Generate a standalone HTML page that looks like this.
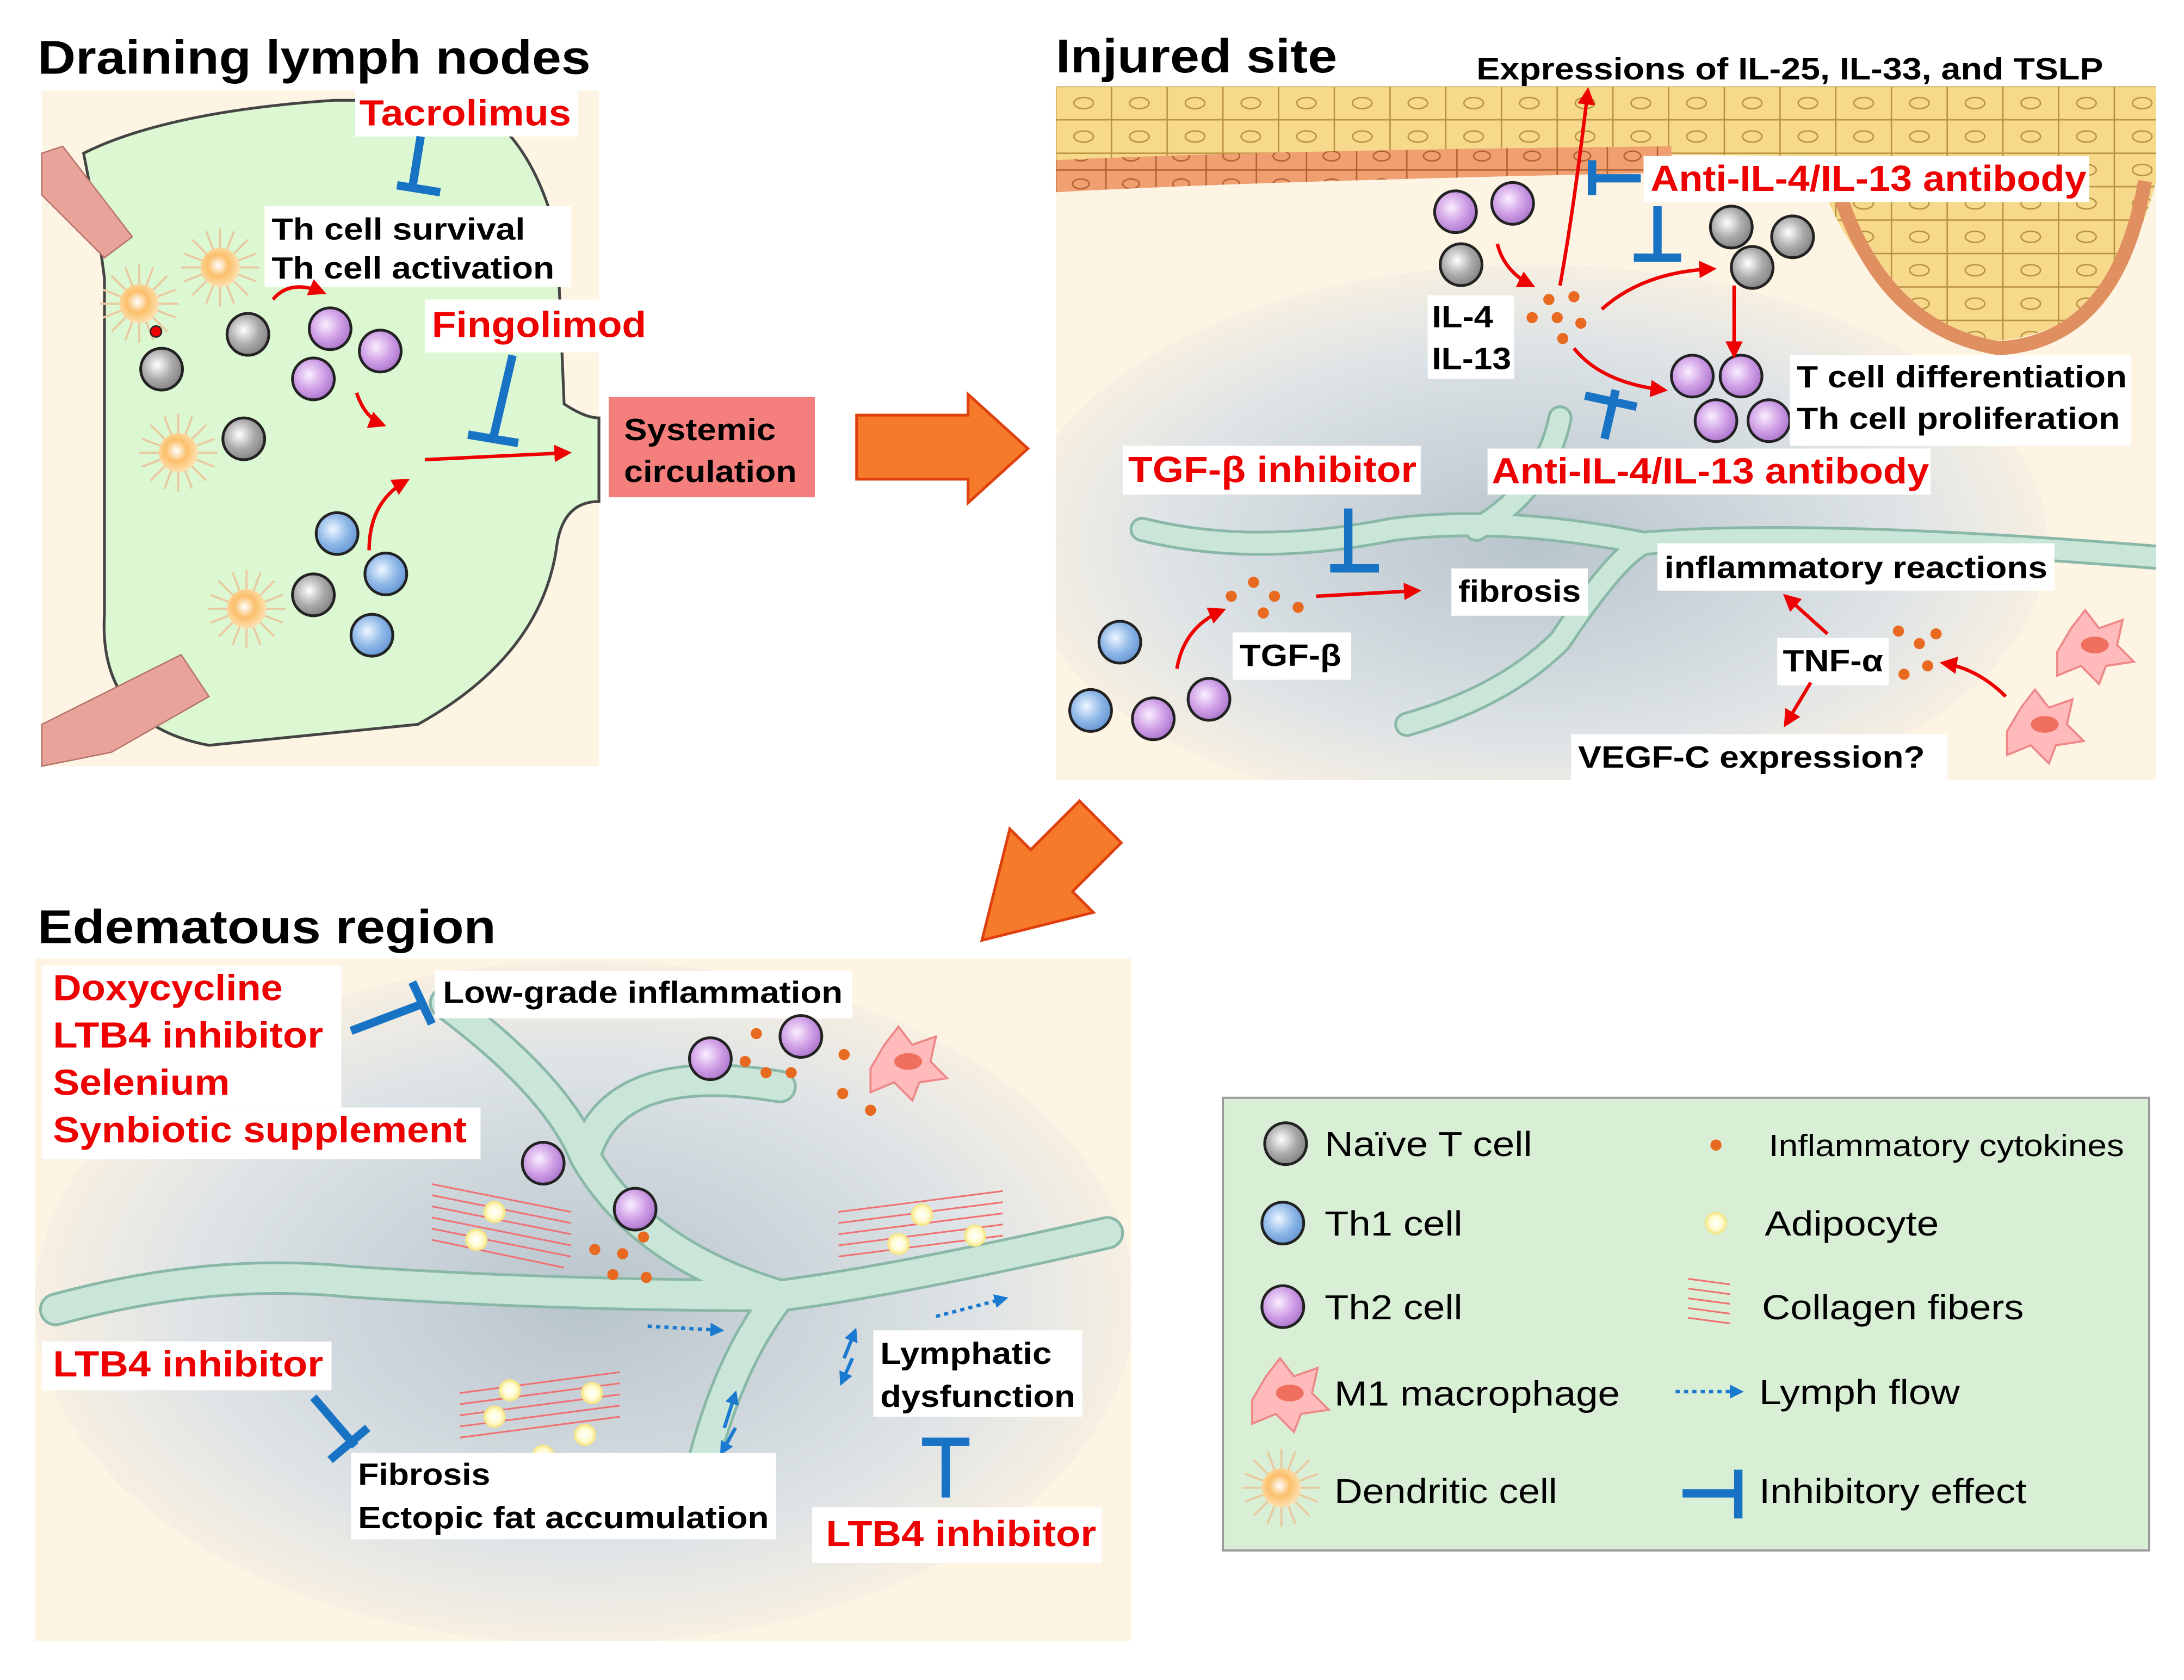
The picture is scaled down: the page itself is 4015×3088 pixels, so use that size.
<!DOCTYPE html>
<html><head><meta charset="utf-8"><style>html,body{margin:0;padding:0;background:#fff}svg{display:block}text{font-family:"Liberation Sans",Arial,sans-serif;font-weight:bold}.n{font-weight:normal}</style></head>
<body>
<svg width="4015" height="3088" viewBox="0 0 1568 1206" xmlns="http://www.w3.org/2000/svg">
<defs>
<radialGradient id="gr" cx="40%" cy="40%" r="60%"><stop offset="0" stop-color="#fff"/><stop offset="0.6" stop-color="#aaa"/><stop offset="1" stop-color="#888"/></radialGradient>
<radialGradient id="bl" cx="40%" cy="40%" r="60%"><stop offset="0" stop-color="#eef6ff"/><stop offset="0.6" stop-color="#8fb8e8"/><stop offset="1" stop-color="#6a9ad6"/></radialGradient>
<radialGradient id="pu" cx="40%" cy="40%" r="60%"><stop offset="0" stop-color="#fbeeff"/><stop offset="0.6" stop-color="#cf9fe6"/><stop offset="1" stop-color="#b07ad0"/></radialGradient>
<radialGradient id="dc" cx="45%" cy="45%" r="55%"><stop offset="0" stop-color="#fff"/><stop offset="0.5" stop-color="#fbbf6a"/><stop offset="1" stop-color="#fde0b0"/></radialGradient>
<radialGradient id="gy" cx="50%" cy="50%" r="50%"><stop offset="0" stop-color="#b8c4cc"/><stop offset="0.7" stop-color="#dde3e6"/><stop offset="1" stop-color="#f7efe2"/></radialGradient>
<radialGradient id="ad" cx="50%" cy="50%" r="50%"><stop offset="0" stop-color="#fff"/><stop offset="0.6" stop-color="#fffbd0"/><stop offset="1" stop-color="#f5e27a"/></radialGradient>
<clipPath id="c2"><rect x="758" y="62" width="790" height="498"/></clipPath>
<clipPath id="c3"><rect x="25" y="688" width="787" height="490"/></clipPath>
<pattern id="cells" x="758" y="62" width="40" height="24" patternUnits="userSpaceOnUse"><rect width="40" height="24" fill="#f6d98a" stroke="#b89040" stroke-width="1"/><ellipse cx="20" cy="12" rx="7" ry="4" fill="none" stroke="#b89040"/></pattern>
<pattern id="cells2" x="758" y="62" width="36" height="20" patternUnits="userSpaceOnUse"><rect width="36" height="20" fill="#f0a070" stroke="#b06030" stroke-width="1"/><ellipse cx="18" cy="10" rx="6" ry="3.5" fill="none" stroke="#b06030"/></pattern>
<marker id="ar" viewBox="0 0 10 10" refX="8" refY="5" markerWidth="5" markerHeight="5" orient="auto"><path d="M0,0L10,5L0,10z" fill="#e00"/></marker>
<marker id="ab" viewBox="0 0 10 10" refX="8" refY="5" markerWidth="4" markerHeight="4" orient="auto"><path d="M0,0L10,5L0,10z" fill="#1a7ad0"/></marker>
<g id="cg"><circle r="15" fill="url(#gr)" stroke="#222" stroke-width="2"/></g>
<g id="cb"><circle r="15" fill="url(#bl)" stroke="#222" stroke-width="2"/></g>
<g id="cp"><circle r="15" fill="url(#pu)" stroke="#222" stroke-width="2"/></g>
<g id="dcell" stroke="#e8c9a0" stroke-width="1.5"><path d="M-28,0H28M0,-28V28M-20,-20L20,20M-20,20L20,-20M-26,-10L26,10M-26,10L26,-10M-10,-26L10,26M10,-26L-10,26"/><circle r="14" fill="url(#dc)" stroke="none"/></g>
<g id="mac"><path d="M-25,5 L-15,-12 L-5,-25 L5,-12 L22,-18 L18,0 L30,12 L10,15 L5,28 L-8,15 L-25,22 z" fill="#fbb" stroke="#e88" stroke-width="1.5"/><ellipse cx="2" cy="0" rx="10" ry="6" fill="#f07060"/></g>
</defs>

<!-- Panel 1 -->
<text x="27" y="53" font-size="34" textLength="397" lengthAdjust="spacingAndGlyphs">Draining lymph nodes</text>
<rect x="30" y="65" width="400" height="485" fill="#fdf4e4"/>
<path d="M60,110 Q120,80 240,72 L330,72 Q380,90 400,170 L405,290 Q420,300 430,300 L430,360 Q405,360 400,390 Q390,470 300,520 L150,535 Q70,520 75,440 L75,200 Q70,160 60,110z" fill="#dcf8d2" stroke="#444" stroke-width="2"/>
<g fill="#e8a39a" stroke="#b5736a"><path d="M30,110 L45,105 L95,170 L75,185 L30,140z"/><path d="M30,520 L60,505 L130,470 L150,500 L80,540 L30,550z"/></g>
<rect x="255" y="65" width="160" height="33" fill="#fff"/>
<text x="258" y="90" font-size="26" fill="#e00" textLength="152" lengthAdjust="spacingAndGlyphs">Tacrolimus</text>
<path d="M302,98 L296,135 M285,133 L316,138" stroke="#1873c4" stroke-width="6"/>
<rect x="190" y="148" width="220" height="58" fill="#fff"/>
<text x="195" y="172" font-size="22" textLength="182" lengthAdjust="spacingAndGlyphs">Th cell survival</text>
<text x="195" y="200" font-size="22" textLength="203" lengthAdjust="spacingAndGlyphs">Th cell activation</text>
<rect x="305" y="215" width="160" height="38" fill="#fff"/>
<text x="310" y="242" font-size="26" fill="#e00" textLength="154" lengthAdjust="spacingAndGlyphs">Fingolimod</text>
<path d="M368,255 L354,315 M336,312 L372,318" stroke="#1873c4" stroke-width="6"/>
<use href="#dcell" x="100" y="218"/><use href="#dcell" x="158" y="192"/><use href="#dcell" x="128" y="325"/><use href="#dcell" x="177" y="437"/>
<circle cx="112" cy="238" r="4" fill="#e00" stroke="#222"/>
<use href="#cg" x="116" y="265"/><use href="#cg" x="178" y="240"/><use href="#cg" x="175" y="315"/><use href="#cg" x="225" y="427"/>
<use href="#cp" x="237" y="236"/><use href="#cp" x="273" y="252"/><use href="#cp" x="225" y="272"/>
<use href="#cb" x="242" y="383"/><use href="#cb" x="277" y="412"/><use href="#cb" x="267" y="456"/>
<g stroke="#e00" stroke-width="2.5" fill="none" marker-end="url(#ar)"><path d="M196,215 Q208,200 232,210"/><path d="M256,282 Q262,300 275,305"/><path d="M265,395 Q265,360 292,345"/><path d="M305,330 L408,325"/></g>
<rect x="437" y="285" width="148" height="72" fill="#f47f7d"/>
<text x="448" y="316" font-size="22" textLength="109" lengthAdjust="spacingAndGlyphs">Systemic</text>
<text x="448" y="346" font-size="22" textLength="124" lengthAdjust="spacingAndGlyphs">circulation</text>
<path d="M615,298 L695,298 L695,283 L738,322 L695,361 L695,344 L615,344z" fill="#f57a2a" stroke="#e04010" stroke-width="2"/>

<!-- Panel 2 -->
<text x="758" y="52" font-size="34" textLength="202" lengthAdjust="spacingAndGlyphs">Injured site</text>
<rect x="758" y="62" width="790" height="498" fill="#fdf4e4"/>
<g clip-path="url(#c2)">
<ellipse cx="1100" cy="390" rx="370" ry="200" fill="url(#gy)"/>
<path d="M758,62 H1548 V110 Q1400,100 1300,112 L1100,110 Q900,112 758,118z" fill="url(#cells)"/>
<path d="M758,115 Q900,108 1200,105 L1200,124 Q900,130 758,138z" fill="url(#cells2)"/>
<path d="M1300,108 Q1330,220 1430,245 Q1520,240 1548,130 V62 H1300z" fill="url(#cells)"/>
<path d="M1315,120 Q1345,235 1435,250 Q1520,245 1540,130" fill="none" stroke="#e09060" stroke-width="10"/>
<path d="M1010,520 Q1080,500 1120,460 Q1160,400 1180,390 Q1300,380 1548,400 M1180,390 Q1080,370 1000,380 Q900,400 820,380 M1120,300 Q1110,350 1060,380" stroke="#8ab8a8" stroke-width="18" fill="none" stroke-linecap="round"/>
<path d="M1010,520 Q1080,500 1120,460 Q1160,400 1180,390 Q1300,380 1548,400 M1180,390 Q1080,370 1000,380 Q900,400 820,380 M1120,300 Q1110,350 1060,380" stroke="#c9e6d8" stroke-width="14" fill="none" stroke-linecap="round"/>
</g>
<text x="1060" y="57" font-size="22" textLength="450" lengthAdjust="spacingAndGlyphs">Expressions of IL-25, IL-33, and TSLP</text>
<rect x="1180" y="112" width="320" height="33" fill="#fff"/>
<text x="1185" y="137" font-size="26" fill="#e00" textLength="313" lengthAdjust="spacingAndGlyphs">Anti-IL-4/IL-13 antibody</text>
<path d="M1143,115 V140 M1143,128 H1178 M1190,148 V185 M1173,185 H1207" stroke="#1873c4" stroke-width="6" fill="none"/>
<use href="#cp" x="1045" y="152"/><use href="#cp" x="1086" y="146"/><use href="#cg" x="1049" y="190"/>
<use href="#cg" x="1243" y="163"/><use href="#cg" x="1287" y="170"/><use href="#cg" x="1258" y="192"/>
<use href="#cp" x="1215" y="270"/><use href="#cp" x="1250" y="270"/><use href="#cp" x="1232" y="302"/><use href="#cp" x="1270" y="302"/>
<g fill="#e86a20"><circle cx="1112" cy="215" r="4"/><circle cx="1130" cy="213" r="4"/><circle cx="1100" cy="228" r="4"/><circle cx="1118" cy="228" r="4"/><circle cx="1135" cy="232" r="4"/><circle cx="1122" cy="243" r="4"/></g>
<g stroke="#e00" stroke-width="2.5" fill="none" marker-end="url(#ar)"><path d="M1120,205 Q1130,150 1140,65"/><path d="M1075,175 Q1080,195 1100,205"/><path d="M1150,222 Q1180,195 1230,193"/><path d="M1245,205 L1245,255"/><path d="M1130,250 Q1150,275 1195,280"/></g>
<rect x="1025" y="212" width="62" height="60" fill="#fff"/>
<text x="1028" y="235" font-size="22" textLength="44" lengthAdjust="spacingAndGlyphs">IL-4</text><text x="1028" y="265" font-size="22" textLength="57" lengthAdjust="spacingAndGlyphs">IL-13</text>
<rect x="1285" y="255" width="245" height="65" fill="#fff"/>
<text x="1290" y="278" font-size="22" textLength="237" lengthAdjust="spacingAndGlyphs">T cell differentiation</text>
<text x="1290" y="308" font-size="22" textLength="232" lengthAdjust="spacingAndGlyphs">Th cell proliferation</text>
<path d="M1160,280 L1152,315 M1138,284 L1175,292" stroke="#1873c4" stroke-width="6"/>
<rect x="1068" y="322" width="318" height="33" fill="#fff"/>
<text x="1071" y="347" font-size="26" fill="#e00" textLength="314" lengthAdjust="spacingAndGlyphs">Anti-IL-4/IL-13 antibody</text>
<rect x="806" y="320" width="214" height="35" fill="#fff"/>
<text x="810" y="346" font-size="26" fill="#e00" textLength="207" lengthAdjust="spacingAndGlyphs">TGF-β inhibitor</text>
<path d="M968,365 V410 M955,408 H990" stroke="#1873c4" stroke-width="6"/>
<rect x="1042" y="408" width="98" height="34" fill="#fff"/><text x="1047" y="432" font-size="22" textLength="88" lengthAdjust="spacingAndGlyphs">fibrosis</text>
<rect x="1190" y="390" width="285" height="34" fill="#fff"/><text x="1195" y="415" font-size="22" textLength="275" lengthAdjust="spacingAndGlyphs">inflammatory reactions</text>
<rect x="1276" y="458" width="80" height="34" fill="#fff"/><text x="1280" y="482" font-size="22" textLength="72" lengthAdjust="spacingAndGlyphs">TNF-α</text>
<rect x="1128" y="527" width="270" height="34" fill="#fff"/><text x="1133" y="551" font-size="22" textLength="249" lengthAdjust="spacingAndGlyphs">VEGF-C expression?</text>
<rect x="885" y="454" width="85" height="34" fill="#fff"/><text x="890" y="478" font-size="22" textLength="73" lengthAdjust="spacingAndGlyphs">TGF-β</text>
<g fill="#e86a20"><circle cx="884" cy="428" r="4"/><circle cx="900" cy="418" r="4"/><circle cx="915" cy="428" r="4"/><circle cx="907" cy="440" r="4"/><circle cx="932" cy="436" r="4"/><circle cx="1363" cy="453" r="4"/><circle cx="1378" cy="462" r="4"/><circle cx="1390" cy="455" r="4"/><circle cx="1367" cy="484" r="4"/><circle cx="1384" cy="478" r="4"/></g>
<g stroke="#e00" stroke-width="2.5" fill="none" marker-end="url(#ar)"><path d="M845,480 Q850,450 878,438"/><path d="M945,428 L1018,424"/><path d="M1312,455 L1282,428"/><path d="M1300,490 L1282,520"/><path d="M1440,500 Q1420,480 1395,476"/></g>
<use href="#cb" x="804" y="461"/><use href="#cb" x="783" y="510"/><use href="#cp" x="828" y="516"/><use href="#cp" x="868" y="502"/>
<use href="#mac" x="1502" y="463"/><use href="#mac" x="1466" y="520"/>
<path d="M805,605 L770,640 L785,655 L705,675 L725,595 L740,610 L775,575z" fill="#f57a2a" stroke="#e04010" stroke-width="2"/>

<!-- Panel 3 -->
<text x="27" y="677" font-size="34" textLength="329" lengthAdjust="spacingAndGlyphs">Edematous region</text>
<rect x="25" y="688" width="787" height="490" fill="#fdf4e4"/>
<g clip-path="url(#c3)">
<ellipse cx="420" cy="935" rx="395" ry="245" fill="url(#gy)"/>
<g fill="none" stroke-linecap="round"><path d="M320,720 Q400,780 420,830 Q460,900 560,930 Q640,920 795,885 M560,930 Q520,980 500,1070 M560,930 Q400,930 250,920 Q150,910 40,940 M420,830 Q440,760 560,780" stroke="#8ab8a8" stroke-width="24"/><path d="M320,720 Q400,780 420,830 Q460,900 560,930 Q640,920 795,885 M560,930 Q520,980 500,1070 M560,930 Q400,930 250,920 Q150,910 40,940 M420,830 Q440,760 560,780" stroke="#c9e6d8" stroke-width="20"/></g>
</g>
<g stroke="#f07070" stroke-width="1.2"><path d="M310,850L410,870M310,858L410,878M310,866L410,886M310,874L410,894M310,882L410,902M310,890L405,910M602,870L720,855M602,878L720,863M602,886L720,871M602,894L720,879M602,902L720,887M330,1000L445,985M330,1008L445,993M330,1016L445,1001M330,1024L445,1009M330,1032L445,1017"/></g>
<g fill="url(#ad)"><circle cx="355" cy="870" r="8"/><circle cx="342" cy="890" r="8"/><circle cx="662" cy="872" r="8"/><circle cx="700" cy="887" r="8"/><circle cx="645" cy="893" r="8"/><circle cx="366" cy="998" r="8"/><circle cx="425" cy="1000" r="8"/><circle cx="355" cy="1017" r="8"/><circle cx="420" cy="1030" r="8"/><circle cx="390" cy="1045" r="8"/></g>
<rect x="30" y="693" width="215" height="102" fill="#fff"/><rect x="30" y="795" width="315" height="37" fill="#fff"/>
<text x="38" y="718" font-size="26" fill="#e00" textLength="165" lengthAdjust="spacingAndGlyphs">Doxycycline</text>
<text x="38" y="752" font-size="26" fill="#e00" textLength="194" lengthAdjust="spacingAndGlyphs">LTB4 inhibitor</text>
<text x="38" y="786" font-size="26" fill="#e00" textLength="127" lengthAdjust="spacingAndGlyphs">Selenium</text>
<text x="38" y="820" font-size="26" fill="#e00" textLength="297" lengthAdjust="spacingAndGlyphs">Synbiotic supplement</text>
<path d="M252,740 L305,720 M296,705 L310,735" stroke="#1873c4" stroke-width="6"/>
<rect x="312" y="697" width="300" height="34" fill="#fff"/><text x="318" y="720" font-size="22" textLength="287" lengthAdjust="spacingAndGlyphs">Low-grade inflammation</text>
<use href="#cp" x="510" y="760"/><use href="#cp" x="575" y="744"/><use href="#cp" x="390" y="835"/><use href="#cp" x="456" y="868"/>
<g fill="#e86a20"><circle cx="543" cy="742" r="4"/><circle cx="535" cy="762" r="4"/><circle cx="550" cy="770" r="4"/><circle cx="568" cy="770" r="4"/><circle cx="606" cy="757" r="4"/><circle cx="605" cy="785" r="4"/><circle cx="625" cy="797" r="4"/><circle cx="427" cy="897" r="4"/><circle cx="447" cy="900" r="4"/><circle cx="462" cy="888" r="4"/><circle cx="440" cy="915" r="4"/><circle cx="464" cy="917" r="4"/></g>
<use href="#mac" x="650" y="762"/>
<g stroke="#1a7ad0" stroke-width="2.5" fill="none" marker-end="url(#ab)"><path d="M465,952 L518,955" stroke-dasharray="3,3"/><path d="M672,945 L722,932" stroke-dasharray="3,3"/><path d="M606,975 L614,955"/><path d="M612,975 L604,993"/><path d="M520,1025 L528,1000"/><path d="M528,1025 L518,1043"/></g>
<rect x="30" y="963" width="208" height="35" fill="#fff"/><text x="38" y="988" font-size="26" fill="#e00" textLength="194" lengthAdjust="spacingAndGlyphs">LTB4 inhibitor</text>
<path d="M225,1003 L255,1038 M237,1048 L264,1025" stroke="#1873c4" stroke-width="6"/>
<rect x="252" y="1043" width="305" height="62" fill="#fff"/>
<text x="257" y="1066" font-size="22" textLength="95" lengthAdjust="spacingAndGlyphs">Fibrosis</text><text x="257" y="1097" font-size="22" textLength="295" lengthAdjust="spacingAndGlyphs">Ectopic fat accumulation</text>
<rect x="627" y="955" width="150" height="62" fill="#fff"/>
<text x="632" y="979" font-size="22" textLength="123" lengthAdjust="spacingAndGlyphs">Lymphatic</text><text x="632" y="1010" font-size="22" textLength="140" lengthAdjust="spacingAndGlyphs">dysfunction</text>
<path d="M662,1035 H696 M679,1035 V1075" stroke="#1873c4" stroke-width="6"/>
<rect x="583" y="1082" width="208" height="40" fill="#fff"/><text x="593" y="1110" font-size="26" fill="#e00" textLength="194" lengthAdjust="spacingAndGlyphs">LTB4 inhibitor</text>

<!-- Legend -->
<rect x="878" y="788" width="665" height="325" fill="#d9efd5" stroke="#999" stroke-width="1.5"/>
<use href="#cg" x="923" y="821"/><text class="n" x="951" y="830" font-size="25" textLength="149" lengthAdjust="spacingAndGlyphs">Naïve T cell</text>
<use href="#cb" x="921" y="878"/><text class="n" x="951" y="887" font-size="25" textLength="99" lengthAdjust="spacingAndGlyphs">Th1 cell</text>
<use href="#cp" x="921" y="938"/><text class="n" x="951" y="947" font-size="25" textLength="99" lengthAdjust="spacingAndGlyphs">Th2 cell</text>
<use href="#mac" x="924" y="1000"/><text class="n" x="958" y="1009" font-size="25" textLength="205" lengthAdjust="spacingAndGlyphs">M1 macrophage</text>
<use href="#dcell" x="920" y="1068"/><text class="n" x="958" y="1079" font-size="25" textLength="160" lengthAdjust="spacingAndGlyphs">Dendritic cell</text>
<circle cx="1232" cy="822" r="4" fill="#e86a20"/><text class="n" x="1270" y="830" font-size="22" textLength="255" lengthAdjust="spacingAndGlyphs">Inflammatory cytokines</text>
<circle cx="1232" cy="878" r="8" fill="url(#ad)"/><text class="n" x="1267" y="887" font-size="25" textLength="125" lengthAdjust="spacingAndGlyphs">Adipocyte</text>
<g stroke="#f07070" stroke-width="1.2"><path d="M1212,918L1242,922M1212,925L1242,929M1212,932L1242,936M1212,939L1242,943M1212,946L1242,950"/></g>
<text class="n" x="1265" y="947" font-size="25" textLength="188" lengthAdjust="spacingAndGlyphs">Collagen fibers</text>
<path d="M1203,999 L1250,999" stroke="#1a7ad0" stroke-width="2.5" stroke-dasharray="3,3" marker-end="url(#ab)"/>
<text class="n" x="1263" y="1008" font-size="25" textLength="144" lengthAdjust="spacingAndGlyphs">Lymph flow</text>
<path d="M1208,1072 H1248 M1248,1055 V1090" stroke="#1873c4" stroke-width="6"/>
<text class="n" x="1263" y="1079" font-size="25" textLength="192" lengthAdjust="spacingAndGlyphs">Inhibitory effect</text>
</svg>
</body></html>
